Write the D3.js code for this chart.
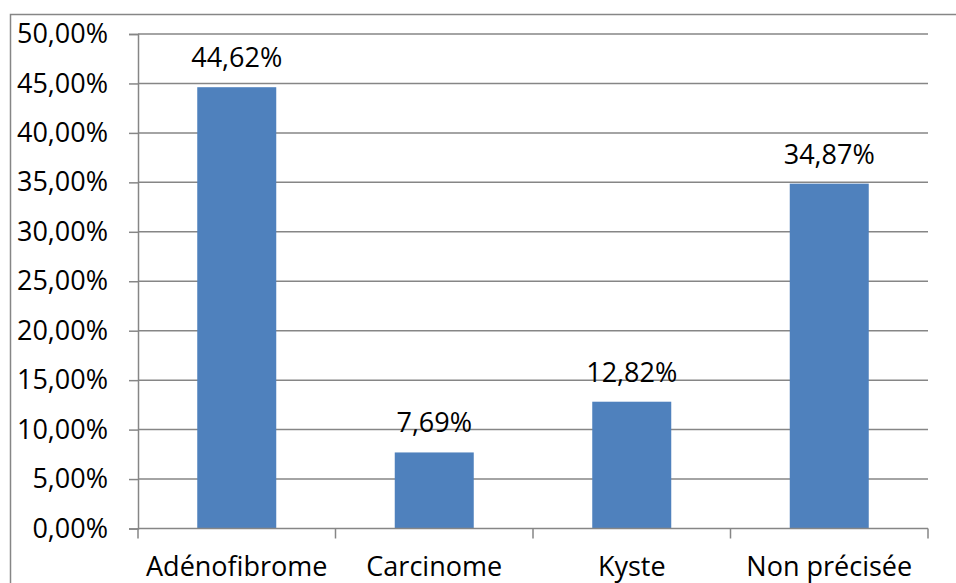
<!DOCTYPE html>
<html>
<head>
<meta charset="utf-8">
<script src="https://cdn.jsdelivr.net/npm/d3@7"></script>
<style>
  html, body { margin: 0; padding: 0; background: #fff; }
  svg { display: block; }
  text { font-family: "Open Sans", "Noto Sans", sans-serif; fill: #000; }
</style>
</head>
<body>
<svg id="chart" width="956" height="583"></svg>
<script>
// Répartition des types de lésions
const categories = ["Adénofibrome", "Carcinome", "Kyste", "Non précisée"];
const percentages = [44.62, 7.69, 12.82, 34.87];
const yTicks = [0, 5, 10, 15, 20, 25, 30, 35, 40, 45, 50];

const fmt = v => v.toFixed(2).replace(".", ",") + "%";

const svg = d3.select("#chart");
const W = 956, H = 583;
const plot = { left: 138, right: 928, top: 34, bottom: 528.5 };
const gridColor = "#868686";
const barColor = "#4F81BD";

// outer chart frame
svg.append("rect")
  .attr("x", 10.5).attr("y", 14.5)
  .attr("width", W + 20).attr("height", H + 20)
  .attr("fill", "none").attr("stroke", gridColor).attr("stroke-width", 1.5);

const x = d3.scaleBand().domain(categories)
  .range([plot.left, plot.right]).paddingInner(0.6).paddingOuter(0.3);
const y = d3.scaleLinear().domain([0, 50]).range([plot.bottom, plot.top]);

// horizontal gridlines
svg.append("g").selectAll("line").data(yTicks.filter(d => d > 0)).join("line")
  .attr("x1", plot.left).attr("x2", plot.right)
  .attr("y1", d => y(d)).attr("y2", d => y(d))
  .attr("stroke", gridColor).attr("stroke-width", 1.5);

// y axis
const yAxis = svg.append("g")
  .attr("transform", `translate(${plot.left},0)`)
  .call(d3.axisLeft(y).tickValues(yTicks).tickFormat(fmt).tickSize(9).tickPadding(21));
yAxis.select(".domain").attr("stroke", gridColor).attr("stroke-width", 1.5);
yAxis.selectAll(".tick line").attr("stroke", gridColor).attr("stroke-width", 1.5);
yAxis.selectAll(".tick text")
  .attr("font-size", 27).attr("font-family", "'Open Sans', sans-serif").attr("fill", "#000");

// bars
svg.append("g").selectAll("rect").data(categories).join("rect")
  .attr("x", d => x(d))
  .attr("width", x.bandwidth())
  .attr("y", (d, i) => y(percentages[i]))
  .attr("height", (d, i) => y(0) - y(percentages[i]))
  .attr("fill", barColor);

// value labels
svg.append("g").selectAll("text").data(categories).join("text")
  .attr("x", d => x(d) + x.bandwidth() / 2)
  .attr("y", (d, i) => y(percentages[i]) - 20)
  .attr("text-anchor", "middle")
  .attr("font-size", 27)
  .text((d, i) => fmt(percentages[i]));

// x axis with category boundary ticks
const step = (plot.right - plot.left) / categories.length;
const xg = svg.append("g");
xg.append("line")
  .attr("x1", plot.left).attr("x2", plot.right)
  .attr("y1", plot.bottom).attr("y2", plot.bottom)
  .attr("stroke", gridColor).attr("stroke-width", 1.5);
xg.selectAll("line.tk").data(d3.range(categories.length + 1)).join("line")
  .attr("class", "tk")
  .attr("x1", i => plot.left + i * step).attr("x2", i => plot.left + i * step)
  .attr("y1", plot.bottom).attr("y2", plot.bottom + 10)
  .attr("stroke", gridColor).attr("stroke-width", 1.5);
xg.selectAll("text").data(categories).join("text")
  .attr("x", d => x(d) + x.bandwidth() / 2)
  .attr("y", 576)
  .attr("text-anchor", "middle")
  .attr("font-size", 27)
  .text(d => d);
</script>
</body>
</html>
